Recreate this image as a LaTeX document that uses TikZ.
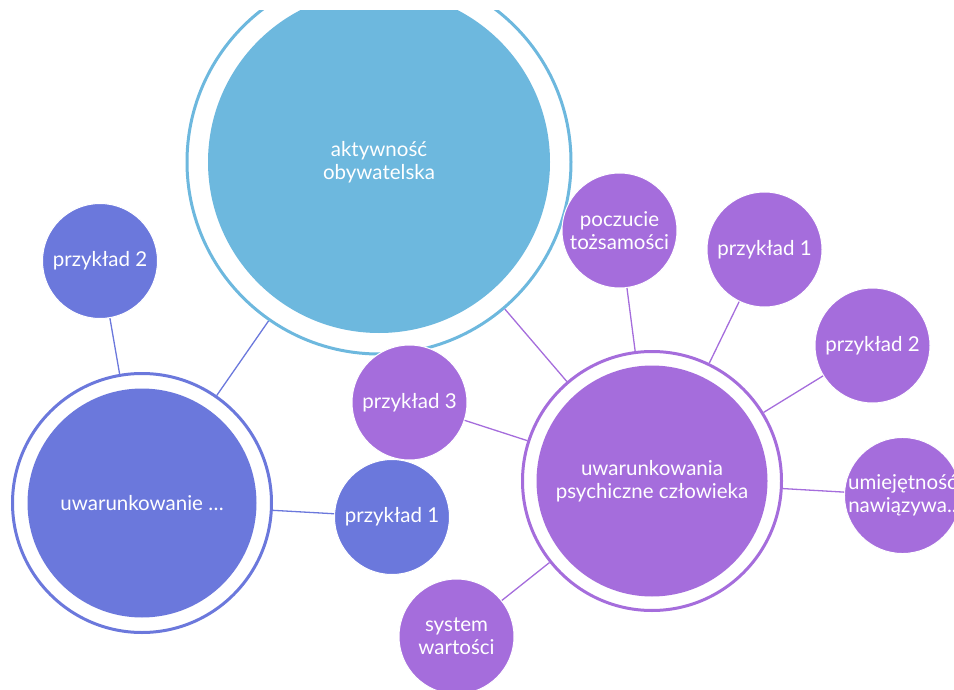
\documentclass[tikz,border=0pt]{standalone}
\usepackage{fontspec}
\setmainfont{Lato}
\definecolor{niebieski}{HTML}{6DB8DE}
\definecolor{indygo}{HTML}{6B78DC}
\definecolor{fiolet}{HTML}{A56DDC}
\newcommand{\ringw}{3pt}
\newcommand{\leafd}{115pt}

\begin{document}
\begin{tikzpicture}[x=1pt,y=-1pt,
        every node/.style={circle,inner sep=0pt,text=white,align=center,
          font=\fontsize{20.5}{23}\selectfont},
        ring/.style={draw=#1,line width=\ringw,fill=white},
        core/.style={fill=#1},
        leaf/.style={fill=#1,draw=white,line width=1pt,minimum size=\leafd},
        laczenie/.style={draw=#1,line width=1.3pt}]
                %\draw[help lines] (0,0) grid[step=50] (954,690);
                \useasboundingbox (0,0) rectangle (954,690);
                \clip (0,11) rectangle (954,690);
                % glowne kola
                \node[ring=niebieski,minimum size=384pt] (aktyw) at (379,162) {};
                \node[core=niebieski,minimum size=342pt] at (aktyw) {aktywność\\obywatelska};
                \node[ring=indygo,minimum size=259pt] (uwL) at (142,503) {};
                \node[core=indygo,minimum size=229pt] at (uwL) {uwarunkowanie \dots};
                \node[ring=fiolet,minimum size=259pt] (uwP) at (652,481) {};
                \node[core=fiolet,minimum size=231pt] at (uwP) {uwarunkowania\\psychiczne człowieka};
                % przyklady
                \node[leaf=indygo] (lp2) at (100,261) {przykład 2};
                \node[leaf=indygo] (lp1) at (392,517) {przykład 1};
                \node[leaf=fiolet] (pp3) at (409.5,402.5) {przykład 3};
                \node[leaf=fiolet] (tozs) at (619.5,230.5) {poczucie\\tożsamości};
                \node[leaf=fiolet] (pp1) at (764.5,249.5) {przykład 1};
                \node[leaf=fiolet] (pp2) at (872.5,345.5) {przykład 2};
                \node[leaf=fiolet] (umiej) at (902.5,495.5) {umiejętność\\nawiązywa..};
                \node[leaf=fiolet] (syst) at (456.5,636.5) {system\\wartości};
                % polaczenia
                \draw[laczenie=indygo] (uwL) -- (aktyw);
                \draw[laczenie=indygo] (uwL) -- (lp2);
                \draw[laczenie=indygo] (uwL) -- (lp1);
                \draw[laczenie=fiolet] (uwP) -- (aktyw);
                \foreach \t in {pp3,tozs,pp1,pp2,umiej,syst}
                        \draw[laczenie=fiolet] (uwP) -- (\t);
\end{tikzpicture}
\end{document}
